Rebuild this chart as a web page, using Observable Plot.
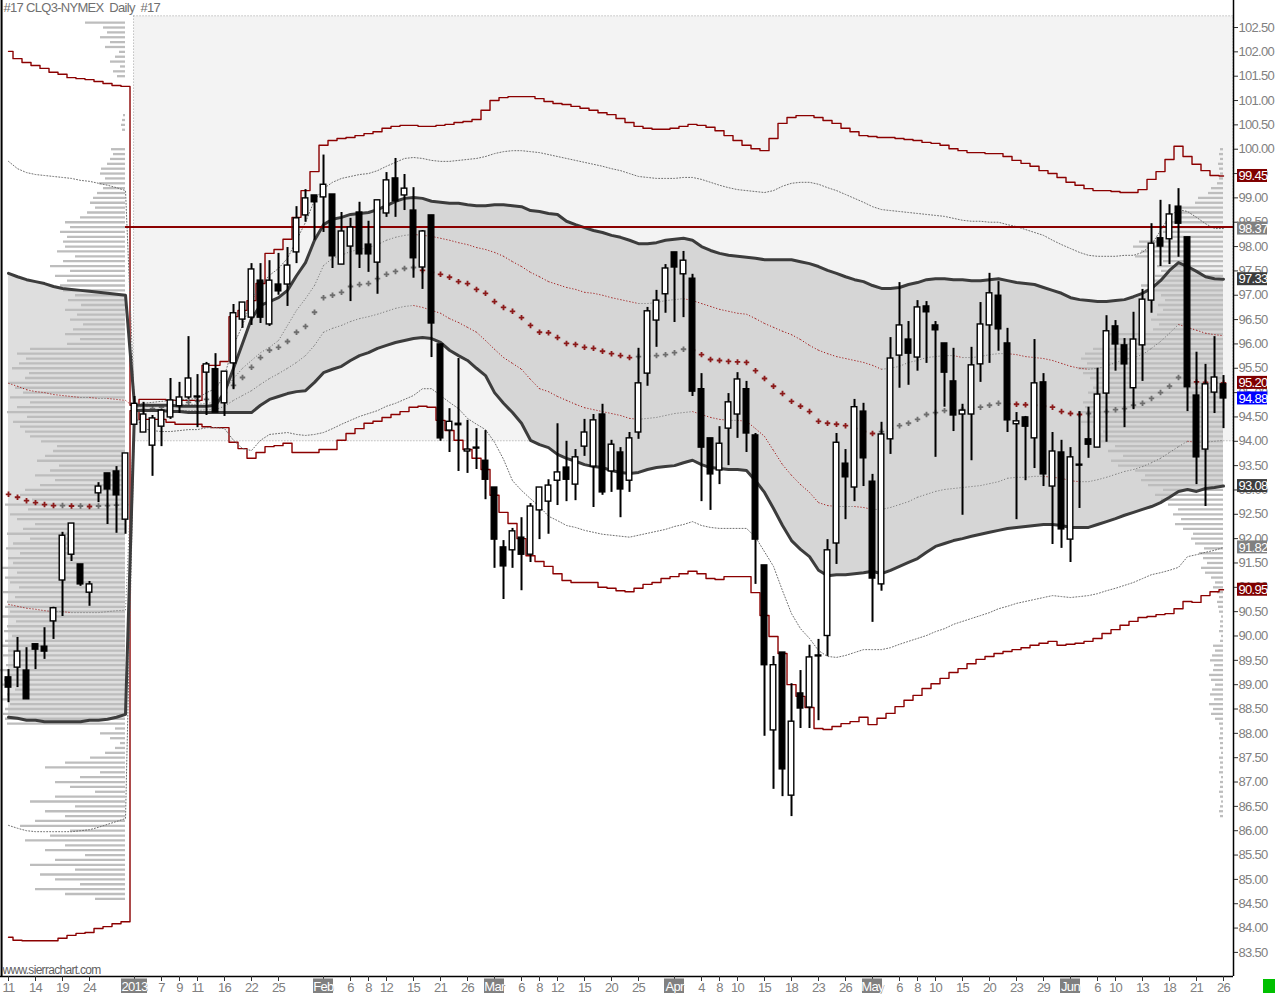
<!DOCTYPE html>
<html><head><meta charset="utf-8">
<script src="https://cdn.jsdelivr.net/npm/d3@7"></script>
<script src="https://cdn.jsdelivr.net/npm/@observablehq/plot@0.6"></script>
<style>
html,body{margin:0;padding:0;background:#fff;}
#chart{width:1276px;height:994px;overflow:hidden;}
#chart svg text{letter-spacing:-0.7px;}
</style></head><body><div id="chart"></div>
<script>
// ---------------- DATA ----------------
const chartTitle = "#17 CLQ3-NYMEX  Daily  #17";
const watermark = "www.sierrachart.com";
const anchorIndex = 14; // first bar of 2013 (Jan 2), where the VWAP bands restart

const open = [89.15,89.35,89.29,89.83,89.78,90.30,91.14,91.67,91.47,90.89,92.93,93.34,93.38,92.39,
94.34,94.18,93.91,94.30,94.49,94.72,94.90,94.92,95.41,95.48,
94.78,95.60,96.50,96.54,97.30,96.40,97.22,97.22,97.88,98.64,
99.05,99.01,99.07,97.63,98.00,98.70,98.04,97.67,98.68,99.40,
99.05,98.74,97.57,98.64,95.99,94.22,94.36,93.79,93.87,93.60,
93.05,91.82,91.76,92.02,91.67,92.58,92.76,93.19,93.46,93.11,
93.89,93.48,94.55,93.38,93.77,93.19,94.18,95.39,96.48,97.02,
97.88,97.43,97.34,95.07,94.06,93.40,94.26,94.55,95.07,94.12,
91.45,88.06,89.66,86.72,88.82,88.53,89.60,90.00,91.90,93.54,
93.05,94.61,93.17,91.06,94.04,95.76,96.09,95.72,96.77,96.38,
96.01,95.23,94.55,94.55,95.58,96.38,96.99,96.01,94.35,94.49,
94.06,95.21,93.07,93.77,91.98,93.52,94.04,93.87,94.98,96.36,
95.97,95.09,95.97,96.89,98.17,98.15,98.82,98.19,94.94,93.83,
95.00,95.17];
const high = [89.31,89.97,89.76,89.83,90.17,90.59,92.13,92.31,91.47,91.12,93.15,93.34,93.48,93.75,
94.92,94.80,94.53,94.65,95.29,95.21,96.15,95.37,95.62,95.80,
95.43,96.81,96.85,97.65,97.65,97.71,97.86,97.98,98.82,99.17,
99.05,99.88,99.07,98.70,98.58,98.91,98.52,98.95,99.52,99.81,
99.48,99.21,98.33,98.64,95.99,94.67,95.70,94.43,94.26,94.22,
93.05,91.96,92.21,92.43,92.72,93.05,93.21,94.36,94.00,93.83,
94.45,94.55,94.76,94.02,93.87,94.18,95.91,96.75,97.10,97.63,
97.88,97.90,97.43,95.39,94.06,94.30,94.98,95.41,95.23,94.16,
91.45,89.58,89.66,89.02,89.29,89.81,89.93,91.98,94.16,93.83,
94.86,94.78,93.32,94.39,96.13,97.26,96.46,96.89,96.87,96.46,
96.01,95.91,94.76,95.93,96.85,97.45,97.28,96.32,94.59,94.51,
96.09,95.39,94.18,94.02,93.87,94.61,94.70,95.50,96.58,96.48,
96.11,96.65,97.12,98.47,98.95,98.86,99.19,98.19,95.83,95.58,
96.15,95.35];
const low = [88.63,88.94,88.70,89.31,89.52,89.93,90.40,91.53,91.02,90.61,92.74,92.29,92.11,92.09,
94.34,94.18,93.28,93.89,94.45,94.57,94.86,94.28,94.53,94.59,
94.51,95.06,96.32,96.38,96.42,96.36,97.00,96.77,97.65,98.50,
98.13,98.29,97.55,97.63,96.87,97.55,97.47,97.02,98.60,98.60,
98.74,97.35,97.12,95.72,94.00,93.77,93.38,93.34,93.42,92.80,
91.39,90.75,91.39,90.93,91.51,91.98,92.09,92.68,92.76,92.78,
93.69,92.64,92.89,92.95,92.43,92.95,94.04,95.13,95.93,96.63,
96.44,96.54,94.92,92.76,92.58,93.11,93.50,94.06,93.77,91.06,
87.94,86.85,86.70,86.29,88.10,88.10,88.26,89.58,91.47,92.39,
92.76,93.07,90.28,90.92,93.73,95.09,95.15,95.44,95.60,93.67,
94.70,94.20,92.48,93.60,95.21,95.60,95.85,94.18,92.39,93.19,
93.44,93.07,91.88,91.80,91.51,92.62,93.65,93.87,93.98,95.44,
94.28,94.65,95.23,96.63,97.59,97.63,97.78,94.61,93.11,92.66,
94.57,94.26];
const close = [88.94,89.68,88.70,89.72,89.68,90.57,92.06,92.31,91.06,91.06,93.07,93.01,92.89,93.75,
94.77,94.55,94.47,94.63,94.84,94.90,95.29,94.90,95.58,94.59,
95.43,96.63,96.85,97.53,96.54,97.30,97.08,97.61,98.58,98.99,
98.91,99.27,97.80,98.31,98.39,97.84,97.84,98.95,99.36,98.93,
99.19,97.76,98.31,96.42,94.06,94.40,94.33,93.83,93.85,93.21,
91.98,91.43,92.15,91.67,92.66,93.05,93.09,93.36,93.21,93.67,
94.18,94.43,92.95,93.93,93.01,94.06,95.19,96.67,96.89,97.55,
97.57,97.71,95.02,93.87,93.32,93.95,94.80,95.27,94.16,91.98,
89.40,89.40,87.26,88.24,88.51,89.56,89.58,91.76,93.97,93.26,
94.70,93.65,91.18,94.14,95.70,96.38,95.80,96.75,96.65,96.28,
95.41,94.53,94.63,95.56,96.40,97.04,96.30,94.43,94.41,94.30,
95.19,93.32,93.79,92.19,93.67,93.50,93.93,94.96,96.26,95.99,
95.58,96.09,96.91,98.06,98.00,98.66,98.47,95.11,93.67,95.17,
95.31,94.88];

// VWAP and its deviation bands (read per bar)
const upper3 = [102.01,101.86,101.78,101.72,101.66,101.58,101.54,101.47,101.45,101.43,101.39,101.35,101.31,101.29,
94.74,94.86,94.86,94.86,94.84,94.84,94.84,94.84,95.56,95.56,
95.64,96.56,96.69,96.89,97.24,97.86,97.94,98.15,98.60,99.15,
99.54,100.08,100.18,100.22,100.24,100.28,100.32,100.36,100.43,100.47,
100.49,100.49,100.47,100.47,100.49,100.51,100.55,100.57,100.61,100.80,
101.00,101.06,101.08,101.08,101.08,101.04,100.98,100.94,100.92,100.88,
100.84,100.80,100.75,100.71,100.63,100.55,100.47,100.43,100.41,100.41,
100.43,100.47,100.51,100.49,100.45,100.38,100.28,100.18,100.08,100.01,
99.97,100.22,100.53,100.65,100.69,100.69,100.65,100.59,100.53,100.43,
100.36,100.28,100.26,100.24,100.24,100.22,100.20,100.18,100.14,100.12,
100.08,100.01,99.97,99.93,99.93,99.91,99.91,99.85,99.77,99.71,
99.65,99.56,99.50,99.42,99.32,99.26,99.19,99.15,99.15,99.13,
99.11,99.11,99.17,99.38,99.54,99.79,100.06,99.85,99.69,99.56,
99.46,99.45];
const upper2 = [99.75,99.60,99.52,99.48,99.46,99.44,99.42,99.40,99.36,99.34,99.30,99.26,99.21,99.15,
94.72,94.78,94.80,94.82,94.84,94.86,94.86,94.88,95.00,95.08,
95.35,95.97,96.38,96.89,97.20,97.41,97.55,97.76,98.13,98.50,
98.95,99.19,99.32,99.40,99.44,99.48,99.50,99.56,99.65,99.73,
99.81,99.83,99.81,99.77,99.75,99.75,99.77,99.79,99.81,99.85,
99.91,99.95,99.97,99.97,99.95,99.93,99.89,99.85,99.81,99.77,
99.73,99.69,99.65,99.60,99.56,99.50,99.44,99.42,99.40,99.40,
99.40,99.42,99.42,99.38,99.32,99.26,99.21,99.17,99.15,99.13,
99.11,99.15,99.24,99.30,99.32,99.32,99.28,99.21,99.15,99.07,
98.99,98.91,98.82,98.76,98.74,98.72,98.70,98.68,98.66,98.64,
98.62,98.58,98.54,98.52,98.52,98.50,98.50,98.45,98.41,98.35,
98.29,98.23,98.13,98.04,97.96,97.88,97.82,97.80,97.80,97.80,
97.82,97.82,97.88,98.04,98.33,98.62,98.76,98.72,98.60,98.47,
98.37,98.37];
const upper1 = [97.45,97.38,97.32,97.28,97.24,97.18,97.14,97.12,97.10,97.08,97.06,97.04,97.02,97.00,
94.74,94.74,94.74,94.74,94.74,94.72,94.72,94.72,94.72,94.74,
95.00,95.50,96.01,96.52,96.79,96.87,96.95,97.10,97.40,97.67,
98.13,98.45,98.56,98.60,98.66,98.68,98.70,98.76,98.84,98.93,
98.99,99.01,98.99,98.93,98.91,98.89,98.89,98.86,98.84,98.84,
98.86,98.86,98.84,98.82,98.74,98.72,98.68,98.66,98.52,98.45,
98.39,98.33,98.29,98.23,98.19,98.13,98.06,98.06,98.08,98.13,
98.15,98.17,98.13,98.00,97.92,97.86,97.82,97.80,97.78,97.76,
97.73,97.73,97.73,97.73,97.69,97.65,97.59,97.51,97.45,97.38,
97.32,97.28,97.20,97.14,97.14,97.16,97.22,97.26,97.32,97.34,
97.34,97.32,97.32,97.30,97.30,97.32,97.34,97.30,97.26,97.24,
97.22,97.16,97.10,97.04,96.95,96.91,96.89,96.87,96.87,96.89,
96.91,96.97,97.04,97.14,97.30,97.51,97.67,97.59,97.49,97.38,
97.34,97.33];
const upperHalf = [95.19,95.13,95.06,95.02,95.00,94.96,94.94,94.92,94.90,94.90,94.88,94.88,94.86,94.84,
94.69,94.72,94.72,94.74,94.74,94.74,94.76,94.76,94.78,94.80,
95.04,95.29,95.50,95.66,95.82,95.93,96.07,96.38,96.69,96.93,
97.20,97.61,97.76,97.82,97.90,97.94,97.98,98.04,98.13,98.19,
98.23,98.25,98.23,98.21,98.17,98.13,98.08,98.04,97.98,97.94,
97.88,97.80,97.69,97.59,97.47,97.38,97.28,97.22,97.16,97.12,
97.06,97.04,97.00,96.95,96.91,96.87,96.83,96.83,96.85,96.89,
96.91,96.93,96.89,96.83,96.77,96.71,96.67,96.63,96.61,96.52,
96.42,96.34,96.26,96.19,96.09,95.97,95.87,95.80,95.74,95.70,
95.66,95.62,95.56,95.48,95.50,95.54,95.62,95.66,95.72,95.74,
95.76,95.76,95.72,95.72,95.74,95.78,95.80,95.80,95.78,95.74,
95.72,95.70,95.66,95.60,95.54,95.50,95.48,95.50,95.54,95.62,
95.68,95.72,95.78,95.91,96.05,96.22,96.40,96.34,96.28,96.22,
96.19,96.17];
const vwap = [92.91,92.85,92.78,92.74,92.70,92.68,92.68,92.67,92.67,92.66,92.67,92.68,92.69,92.70,
94.63,94.65,94.67,94.70,94.74,94.76,94.80,94.82,94.86,94.92,
95.00,95.15,95.31,95.52,95.72,95.87,95.93,96.05,96.24,96.36,
96.65,96.95,97.00,97.06,97.18,97.22,97.24,97.34,97.43,97.49,
97.55,97.57,97.51,97.47,97.43,97.37,97.28,97.24,97.12,97.04,
96.87,96.75,96.67,96.54,96.38,96.24,96.23,96.13,96.01,95.99,
95.93,95.91,95.85,95.80,95.76,95.72,95.74,95.75,95.76,95.78,
95.82,95.89,95.87,95.78,95.68,95.66,95.64,95.63,95.62,95.45,
95.29,95.13,94.98,94.82,94.72,94.61,94.41,94.37,94.35,94.32,
94.26,94.20,94.16,94.20,94.26,94.32,94.37,94.45,94.55,94.59,
94.63,94.64,94.65,94.67,94.70,94.74,94.78,94.77,94.76,94.75,
94.74,94.72,94.70,94.61,94.57,94.55,94.57,94.59,94.61,94.65,
94.67,94.74,94.78,94.88,95.00,95.13,95.31,95.25,95.22,95.21,
95.205,95.20];
const lowerHalf = [90.65,90.61,90.57,90.55,90.52,90.50,90.50,90.48,90.48,90.48,90.48,90.50,90.52,90.53,
94.61,94.61,94.61,94.63,94.63,94.63,94.63,94.63,94.65,94.65,
94.72,94.84,94.94,95.04,95.17,95.29,95.39,95.50,95.62,95.76,
95.97,96.24,96.32,96.38,96.46,96.52,96.56,96.61,96.67,96.73,
96.77,96.79,96.75,96.69,96.63,96.52,96.44,96.34,96.24,96.07,
95.89,95.72,95.60,95.48,95.27,95.08,95.02,94.92,94.84,94.76,
94.69,94.65,94.61,94.57,94.53,94.47,94.45,94.47,94.49,94.53,
94.57,94.59,94.61,94.55,94.49,94.45,94.43,94.43,94.41,94.26,
94.10,93.81,93.52,93.30,93.11,92.95,92.74,92.68,92.66,92.66,
92.66,92.64,92.60,92.60,92.64,92.70,92.76,92.85,92.91,92.97,
93.01,93.03,93.05,93.07,93.09,93.13,93.17,93.24,93.26,93.26,
93.28,93.28,93.26,93.24,93.19,93.17,93.17,93.21,93.26,93.32,
93.38,93.42,93.48,93.56,93.65,93.77,93.89,94.00,93.98,93.98,
94.00,94.02];
const lower1 = [88.33,88.31,88.27,88.27,88.24,88.24,88.24,88.24,88.24,88.27,88.27,88.29,88.33,88.39,
94.63,94.63,94.63,94.63,94.61,94.61,94.59,94.59,94.59,94.59,
94.59,94.59,94.59,94.59,94.74,94.86,94.92,94.98,95.02,95.04,
95.21,95.41,95.48,95.54,95.66,95.76,95.82,95.91,95.97,96.03,
96.07,96.11,96.13,96.11,96.03,95.87,95.76,95.66,95.50,95.35,
95.00,94.78,94.59,94.37,94.02,93.93,93.87,93.73,93.65,93.59,
93.52,93.48,93.46,93.40,93.36,93.34,93.36,93.42,93.46,93.48,
93.50,93.56,93.61,93.52,93.46,93.44,93.42,93.42,93.40,93.19,
92.95,92.62,92.27,91.96,91.78,91.63,91.35,91.24,91.26,91.26,
91.28,91.30,91.33,91.28,91.35,91.43,91.51,91.59,91.72,91.84,
91.90,91.96,92.00,92.05,92.09,92.13,92.17,92.21,92.23,92.25,
92.27,92.29,92.29,92.27,92.23,92.23,92.23,92.29,92.35,92.41,
92.48,92.54,92.60,92.66,92.74,92.85,92.97,93.01,92.97,93.03,
93.05,93.08];
const lower2 = [86.11,86.05,86.00,85.98,85.98,85.98,85.98,85.98,86.00,86.02,86.07,86.13,86.19,86.25,
94.53,94.26,94.22,94.20,94.20,94.22,94.24,94.24,94.28,94.28,
94.26,94.02,93.85,93.81,94.02,94.14,94.16,94.18,94.14,94.12,
94.14,94.18,94.26,94.35,94.43,94.51,94.57,94.63,94.72,94.78,
94.86,94.94,95.08,95.08,94.94,94.80,94.67,94.47,94.35,94.24,
93.98,93.63,93.19,92.99,92.82,92.66,92.46,92.37,92.27,92.23,
92.17,92.13,92.09,92.07,92.05,92.03,92.07,92.11,92.15,92.19,
92.25,92.29,92.35,92.27,92.23,92.21,92.21,92.21,92.21,92.03,
91.73,91.43,90.93,90.46,90.15,89.95,89.70,89.58,89.56,89.60,
89.66,89.72,89.72,89.72,89.76,89.83,89.89,89.95,90.01,90.09,
90.15,90.24,90.30,90.36,90.42,90.48,90.56,90.61,90.67,90.71,
90.75,90.79,90.83,90.81,90.79,90.81,90.83,90.87,90.93,90.98,
91.04,91.10,91.18,91.26,91.30,91.35,91.41,91.63,91.67,91.72,
91.76,91.82];
const lower3 = [83.81,83.75,83.74,83.74,83.74,83.74,83.79,83.85,83.89,83.91,83.99,84.03,84.09,84.13,
94.63,94.45,94.45,94.45,94.39,94.35,94.35,94.35,94.30,94.28,
94.28,93.98,93.85,93.65,93.77,93.89,93.91,93.96,93.77,93.77,
93.77,93.83,93.83,94.02,94.16,94.26,94.37,94.41,94.49,94.55,
94.61,94.70,94.72,94.70,94.43,94.22,94.02,93.83,93.65,93.42,
92.89,92.54,92.31,92.00,91.65,91.53,91.43,91.28,91.14,91.10,
91.10,91.10,91.00,90.98,90.93,90.91,90.98,91.06,91.10,91.18,
91.22,91.28,91.33,91.28,91.18,91.16,91.22,91.22,91.22,90.89,
90.42,89.99,89.64,89.00,88.76,88.53,88.10,88.08,88.14,88.20,
88.24,88.33,88.18,88.31,88.41,88.55,88.68,88.78,88.92,89.02,
89.13,89.25,89.33,89.43,89.52,89.58,89.64,89.68,89.72,89.76,
89.81,89.85,89.89,89.81,89.83,89.85,89.89,89.95,90.05,90.13,
90.22,90.30,90.38,90.40,90.44,90.46,90.56,90.71,90.69,90.83,
90.91,90.95];

// Reference level line
const levelPrice = 98.40;
// Shaded zone of 2013 (upper boundary and 94.00 floor)
const zoneLow = 94.00, zoneHigh = 102.73;

// Volume at price profiles (relative volume per 0.10 price row)
const profileStep = 0.1;
const leftProfileLow = 84.6;   // previous period profile, anchored at Dec 31
const leftProfileVol = [30,60,90,45,70,
85,50,95,70,40,80,60,
100,75,55,105,90,60,80,50,95,70,30,55,
70,45,25,80,60,35,20,10,
5,15,25,10,118,120,122,
120,115,123,118,110,124,121,116,125,119,112,122,117,124,120,113,121,118,109,123,115,120,
118,110,122,106,115,120,108,124,112,117,105,119,
112,95,118,102,90,108,115,97,120,93,105,100,
85,70,90,75,66,88,80,72,68,84,95,100,
105,112,98,118,108,95,115,102,110,117,100,96,113,106,99,108,95,
58,45,60,52,42,55,48,60,44,57,50,62,65,58,
70,55,75,62,50,68,60,
62,58,65,55,60,45,
38,30,35,32,
28,22,26,20,25,24,18,
15,12,14,
0,0,0,
3,4,3,2,
0,0,0,0,0,0,0,
8,12,5,15,10,6,
20,15,25,18,22,
40];
const rightProfileLow = 86.3;  // 2013 profile, anchored at the last bar
const rightProfileVol = [3,4,3,2,3,4,3,3,2,4,3,3,4,2,3,3,4,3,3,4,
8,12,10,14,9,13,11,8,12,14,10,9,13,11,8,10,
3,2,4,3,3,2,4,
5,6,4,6,
10,8,12,
18,22,16,20,24,19,
28,32,30,
40,48,42,50,45,55,
62,68,60,
75,82,78,88,
105,112,100,115,108,
122,128,120,130,
142,135,145,138,140,
128,135,130,125,133,
140,145,136,142,138,130,
112,105,115,
70,64,72,66,
60,65,58,62,
78,82,75,
68,62,66,60,
88,82,90,84,
55,60,52,58,
45,42,48,
28,25,15,
12,6,
4,3,4,5,3,4,3];

// Price labels on the right axis
const labelValues = [99.45, 98.37, 97.33, 95.20, 94.88, 93.08, 91.82, 90.95];
const labelSeries = ["upper3","upper2","upper1","vwap","last","lower1","lower2","lower3"];

// Axis ticks
const yTicks = [83.5,84,84.5,85,85.5,86,86.5,87,87.5,88,88.5,89,89.5,90,90.5,91,91.5,92,92.5,93,93.5,94,94.5,95,95.5,96,96.5,97,97.5,98,98.5,99,99.5,100,100.5,101,101.5,102,102.5];
const xTickIndex = [0,3,6,9,14,17,19,21,24,27,30,35,38,40,42,45,48,51,54,57,59,61,64,67,70,74,77,79,81,84,87,90,93,96,99,101,103,106,109,112,115,118,121,123,126,129,132,135];
const xTickLabels = ["11","14","19","24","2013","7","9","11","16","22","25","Feb","6","8","12","15","21","26","Mar","6","8","12","15","20","25","Apr","4","8","10","15","18","23","26","May","6","8","10","15","20","23","29","Jun","6","10","13","18","21","26"];
const monthLabels = ["2013","Feb","Mar","Apr","May","Jun"];

// ---------------- STYLES ----------------
const seriesColor = {upper3:"#800000", upper2:"#808080", upper1:"#3c3c3c", vwap:"#800000", last:"#0000ff", lower1:"#3c3c3c", lower2:"#808080", lower3:"#800000"};
const RED = "#8b0000", GRAY_DOT = "#6e6e6e", THICK = "#3c3c3c";
const font = "'Liberation Sans','Arial',sans-serif";

// ---------------- BUILD ----------------
const xMin = -0.89, xMax = 136.11, yMin = 83.005, yMax = 103.055;
const n = close.length;
const idx = d3.range(n);
const bars = idx.map(i => ({i, o: open[i], h: high[i], l: low[i], c: close[i]}));
const bands = idx.map(i => ({i, u3: upper3[i], u2: upper2[i], u1: upper1[i], uh: upperHalf[i], vw: vwap[i], lh: lowerHalf[i], l1: lower1[i], l2: lower2[i], l3: lower3[i]}));
const bandsPrev = bands.filter(d => d.i < anchorIndex);
const bandsNew = bands.filter(d => d.i >= anchorIndex);

function segs(vals) {
  return idx.slice(1).map(i => ({x1: i - 1, y1: vals[i - 1], x2: i, y2: vals[i], down: vals[i] < vals[i - 1]}));
}
const halfSegs = segs(upperHalf).concat(segs(lowerHalf));
const vwapPts = idx.map(i => ({i, v: vwap[i], down: i === 0 ? true : vwap[i] < vwap[i - 1]}));

const leftAnchor = anchorIndex - 1, rightAnchor = n - 1;
const volToBars = 1 / 9;
const leftRows = leftProfileVol.map((v, k) => ({p: leftProfileLow + k * profileStep, x1: leftAnchor - v * volToBars, x2: leftAnchor, v})).filter(d => d.v > 0);
const rightRows = rightProfileVol.map((v, k) => ({p: rightProfileLow + k * profileStep, x1: rightAnchor - v * volToBars, x2: rightAnchor, v})).filter(d => d.v > 0);

const labels = labelValues.map((v, k) => ({v, color: seriesColor[labelSeries[k]]}));
const tickLabelMap = new Map(xTickIndex.map((d, k) => [d, xTickLabels[k]]));
const months = xTickIndex.map((d, k) => ({i: d, t: xTickLabels[k]})).filter(d => monthLabels.includes(d.t));

const pxPerPrice = 976 / (yMax - yMin);
const belowAxis = px => yMin - px / pxPerPrice; // price value lying px pixels below the x axis line
const pxToBars = px => px / 9;

const chart = Plot.plot({
  width: 1276, height: 994,
  marginLeft: 0, marginRight: 43, marginTop: 0, marginBottom: 18,
  x: {type: "linear", domain: [xMin, xMax]},
  y: {type: "linear", domain: [yMin, yMax]},
  style: {fontFamily: font, fontSize: "13px", background: "#fff", overflow: "visible"},
  marks: [
    // 2013 shaded zone
    Plot.rect([0], {x1: () => anchorIndex - 0.05, x2: () => xMax, y1: () => zoneLow, y2: () => zoneHigh, fill: "#f3f3f3", stroke: "#a0a0a0", strokeWidth: 1, strokeDasharray: "1,2"}),
    // +-1 sigma band fills
    Plot.areaY(bandsPrev, {x: "i", y1: "l1", y2: "u1", fill: "#dedede"}),
    Plot.areaY(bandsNew, {x: "i", y1: "l1", y2: "u1", fill: "#d6d6d6"}),
    // volume profiles
    Plot.ruleY(leftRows, {y: "p", x1: "x1", x2: "x2", stroke: "#bdbdbd", strokeWidth: 2.3}),
    Plot.ruleY(rightRows, {y: "p", x1: "x1", x2: "x2", stroke: "#bdbdbd", strokeWidth: 2.3}),
    // 3 sigma step lines
    Plot.line(bands, {x: "i", y: "u3", curve: "step", stroke: RED, strokeWidth: 1.4}),
    Plot.line(bands, {x: "i", y: "l3", curve: "step", stroke: RED, strokeWidth: 1.4}),
    // 2 sigma dotted
    Plot.line(bands, {x: "i", y: "u2", stroke: GRAY_DOT, strokeWidth: 1, strokeDasharray: "1,2"}),
    Plot.line(bands, {x: "i", y: "l2", stroke: GRAY_DOT, strokeWidth: 1, strokeDasharray: "1,2"}),
    // 0.5 sigma dotted, colored by direction
    Plot.link(halfSegs.filter(d => d.down), {x1: "x1", y1: "y1", x2: "x2", y2: "y2", stroke: "#990000", strokeWidth: 1, strokeDasharray: "1,2"}),
    Plot.link(halfSegs.filter(d => !d.down), {x1: "x1", y1: "y1", x2: "x2", y2: "y2", stroke: GRAY_DOT, strokeWidth: 1, strokeDasharray: "1,2"}),
    // VWAP markers
    Plot.dot(vwapPts.filter(d => d.down), {x: "i", y: "v", symbol: "cross", r: 2.3, fill: "#8b1a1a", stroke: null}),
    Plot.dot(vwapPts.filter(d => !d.down), {x: "i", y: "v", symbol: "cross", r: 2.3, fill: "#6e6e6e", stroke: null}),
    // 1 sigma thick lines
    Plot.line(bands, {x: "i", y: "u1", stroke: THICK, strokeWidth: 3}),
    Plot.line(bands, {x: "i", y: "l1", stroke: THICK, strokeWidth: 3}),
    // level line
    Plot.ruleY([levelPrice], {x1: () => leftAnchor, x2: () => xMax, stroke: RED, strokeWidth: 2}),
    // candles
    Plot.ruleX(bars, {x: "i", y1: "l", y2: "h", stroke: "#000", strokeWidth: 2}),
    Plot.rect(bars, {x1: d => d.i - 0.31, x2: d => d.i + 0.31, y1: "o", y2: "c", fill: d => d.c >= d.o ? "white" : "black", stroke: "#000", strokeWidth: 1.4}),
    // frame
    Plot.ruleX([xMin + 0.12], {stroke: "#000", strokeWidth: 2}),
    Plot.ruleX([xMax], {stroke: "#000", strokeWidth: 1.5}),
    Plot.ruleY([yMin], {stroke: "#000", strokeWidth: 1.5}),
    // axes
    Plot.axisY({anchor: "right", ticks: yTicks, tickFormat: d => d.toFixed(2), tickSize: 4, tickPadding: 1, stroke: "#303030", fill: "#808080", fontSize: 13}),
    Plot.axisX({anchor: "bottom", ticks: xTickIndex, tickFormat: d => tickLabelMap.get(d), tickSize: 5, tickPadding: 1, stroke: "#303030", fill: "#808080", fontSize: 13}),
    // month boxes
    Plot.rect(months, {x1: d => d.i - pxToBars(d.t === "2013" ? 13 : 10), x2: d => d.i + pxToBars(d.t === "2013" ? 13 : 10), y1: () => belowAxis(2.5), y2: () => belowAxis(17), fill: "#808080"}),
    Plot.text(months, {x: "i", y: () => belowAxis(10), text: "t", fill: "white", fontSize: 13}),
    // right price labels
    Plot.rect(labels, {x1: () => xMax + pxToBars(4), x2: () => xMax + pxToBars(34), y1: d => d.v - 6.5 / pxPerPrice, y2: d => d.v + 6.5 / pxPerPrice, fill: "color"}),
    Plot.text(labels, {x: () => xMax + pxToBars(5), y: "v", text: d => d.v.toFixed(2), textAnchor: "start", fill: "white", fontSize: 13}),
    // title & watermark
    Plot.text([chartTitle], {frameAnchor: "top-left", dx: 3, dy: 2, fill: "#707070", fontSize: 13}),
    Plot.text([watermark], {frameAnchor: "bottom-left", dx: 2, dy: -3, fill: "#606060", fontSize: 12}),
    // status box
    Plot.rect([0], {x1: () => xMax + pxToBars(30), x2: () => xMax + pxToBars(42), y1: () => belowAxis(3), y2: () => belowAxis(17), fill: "#00c000"})
  ]
});
document.getElementById("chart").appendChild(chart);
</script>
</body></html>
